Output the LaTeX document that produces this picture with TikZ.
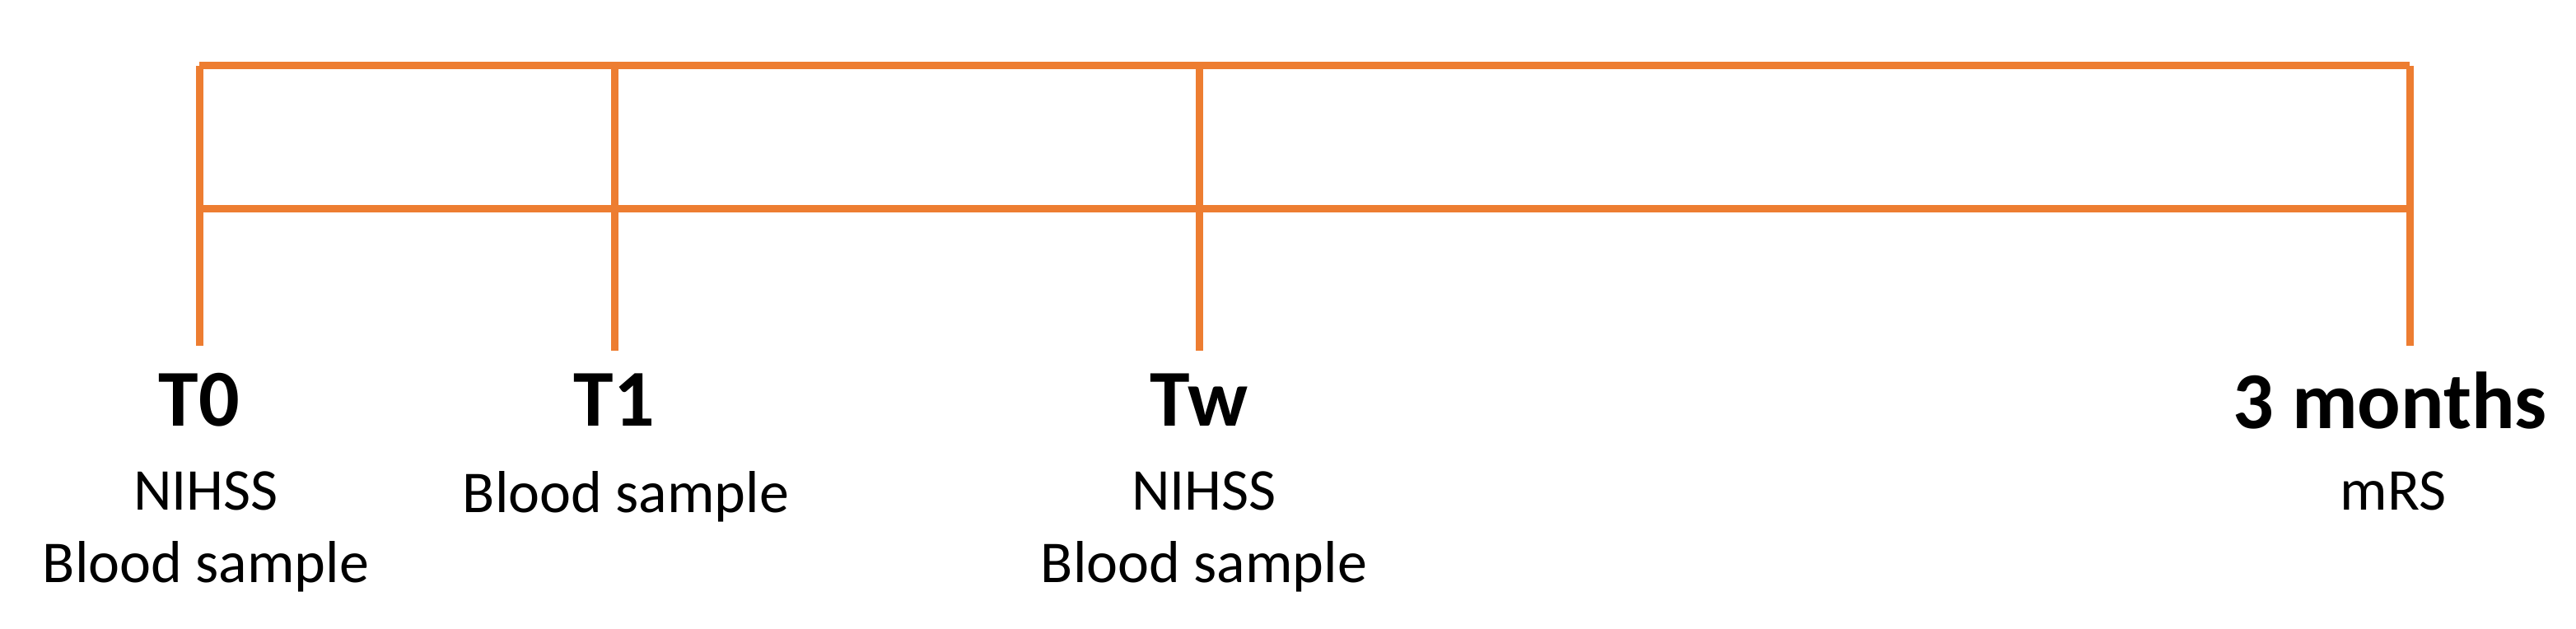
\documentclass[tikz,border=0pt]{standalone}
\usepackage{fontspec}
\setmainfont{Carlito}
\definecolor{tlor}{HTML}{ED7D31}
\begin{document}
\begin{tikzpicture}[x=1pt,y=-1pt,
  tl/.style={draw=tlor,line width=4.5pt},
  big/.style={font=\fontsize{49}{54}\selectfont\bfseries,inner sep=0pt},
  small/.style={font=\fontsize{36}{44}\selectfont,align=center,inner sep=0pt,anchor=north}]
\useasboundingbox (0,0) rectangle (1564,382);
\coordinate (a0) at (121,40); \coordinate (a1) at (373,40);
\coordinate (a2) at (728,40); \coordinate (a3) at (1463,40);
\coordinate (b0) at (121,210); \coordinate (b1) at (373,213);
\coordinate (b2) at (728,213); \coordinate (b3) at (1463,210);
\coordinate (m0) at (121,127); \coordinate (m3) at (1463,127);
\draw[tl] (a0) -- (a3);
\draw[tl] (m0) -- (m3);
\foreach \i in {0,1,2,3} \draw[tl] (a\i) -- (b\i);
\node[big] (t0) at (121,243) {T0};
\node[big] (t1) at (373,243) {T1};
\node[big] (tw) at (728,243) {Tw};
\node[big] (tm) at (1451,243) {3 months};
\node[small] (s0) at (125,286) {NIHSS\\Blood sample};
\node[small] (s1) at (380,286) {Blood sample};
\node[small] (s2) at (731,286) {NIHSS\\Blood sample};
\node[small] (s3) at (1453,286) {mRS};
\end{tikzpicture}
\end{document}
